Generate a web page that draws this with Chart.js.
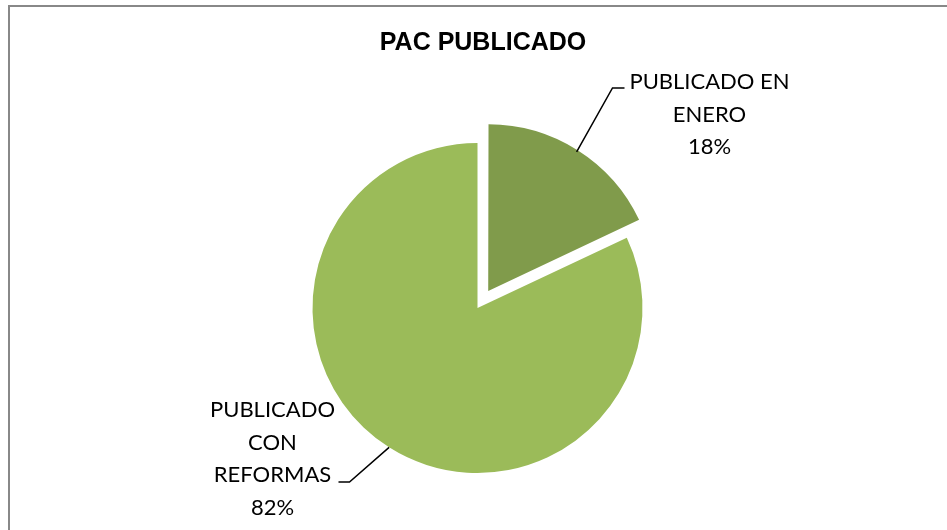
<!DOCTYPE html>
<html>
<head>
<meta charset="utf-8">
<script src="https://cdn.jsdelivr.net/npm/chart.js@4/dist/chart.umd.min.js"></script>
<style>
  html, body { margin: 0; padding: 0; background: #fff; }
  #wrap { width: 947px; height: 530px; }
</style>
</head>
<body>
<div id="wrap"><canvas id="pacChart" width="947" height="530"></canvas></div>
<script>
// datos del grafico
const titulo = 'PAC PUBLICADO';
const categorias = [['PUBLICADO EN', 'ENERO'], ['PUBLICADO', 'CON', 'REFORMAS']];
const valores = [18, 82];
const colores = ['#809B4B', '#9BBB59'];
const desplazamiento = [20, 0]; // px que se separa cada porcion

// posicion de las etiquetas respecto al centro del pastel
const etiquetas = [
  { tx: 232, ty: -226, lineX: 147, lineY: -220, side: 'right' },
  { tx: -205, ty: 102, lineX: -139, lineY: 174, side: 'left' }
];

const ctx = document.getElementById('pacChart');

const marcoYEtiquetas = {
  id: 'marcoYEtiquetas',
  beforeDraw(chart) {
    const c = chart.ctx;
    c.save();
    c.strokeStyle = '#888888';
    c.lineWidth = 2;
    c.beginPath();
    c.moveTo(9, 540);
    c.lineTo(9, 6);
    c.lineTo(960, 6);
    c.stroke();
    c.restore();
  },
  afterDraw(chart) {
    const c = chart.ctx;
    const meta = chart.getDatasetMeta(0);
    const total = valores.reduce((a, b) => a + b, 0);
    c.save();
    // titulo
    c.fillStyle = '#000';
    c.font = 'bold 25px "Liberation Sans Narrow", "Arial Narrow", sans-serif';
    c.textAlign = 'center';
    c.textBaseline = 'middle';
    c.fillText(titulo, 483, 43);

    meta.data.forEach((arc, i) => {
      const p = arc.getProps(['x', 'y', 'startAngle', 'endAngle', 'outerRadius']);
      const mid = (p.startAngle + p.endAngle) / 2;
      const off = desplazamiento[i];
      const cx = p.x + Math.cos(mid) * off;
      const cy = p.y + Math.sin(mid) * off;
      const ex = cx + Math.cos(mid) * p.outerRadius;
      const ey = cy + Math.sin(mid) * p.outerRadius;
      const e = etiquetas[i];
      const elbowX = p.x + e.lineX + (e.side === 'right' ? -12 : 11);
      const elbowY = p.y + e.lineY;
      // linea guia
      c.strokeStyle = '#000';
      c.lineWidth = 1.5;
      c.beginPath();
      c.moveTo(ex, ey);
      c.lineTo(elbowX, elbowY);
      c.lineTo(p.x + e.lineX, elbowY);
      c.stroke();
      // texto
      const pct = Math.round(valores[i] / total * 100) + '%';
      const lineas = categorias[i].concat([pct]);
      c.font = '22px Lato, "Open Sans", sans-serif';
      c.fillStyle = '#000';
      c.textAlign = 'center';
      c.textBaseline = 'middle';
      lineas.forEach((t, k) => {
        c.fillText(t, p.x + e.tx, p.y + e.ty + k * 32.5);
      });
    });
    c.restore();
  }
};

const pacChart = new Chart(ctx, {
  type: 'pie',
  data: {
    labels: categorias.map(l => l.join(' ')),
    datasets: [{
      data: valores,
      backgroundColor: colores,
      borderWidth: 0,
      // Chart.js v4 mueve la porcion offset/4 px
      offset: desplazamiento.map(d => d * 4)
    }]
  },
  options: {
    responsive: false,
    animation: false,
    radius: 165,
    layout: {
      padding: { left: 8, right: 0, top: 86, bottom: 0 }
    },
    plugins: {
      legend: { display: false },
      title: { display: false },
      tooltip: { enabled: false }
    }
  },
  plugins: [marcoYEtiquetas]
});
</script>
</body>
</html>
